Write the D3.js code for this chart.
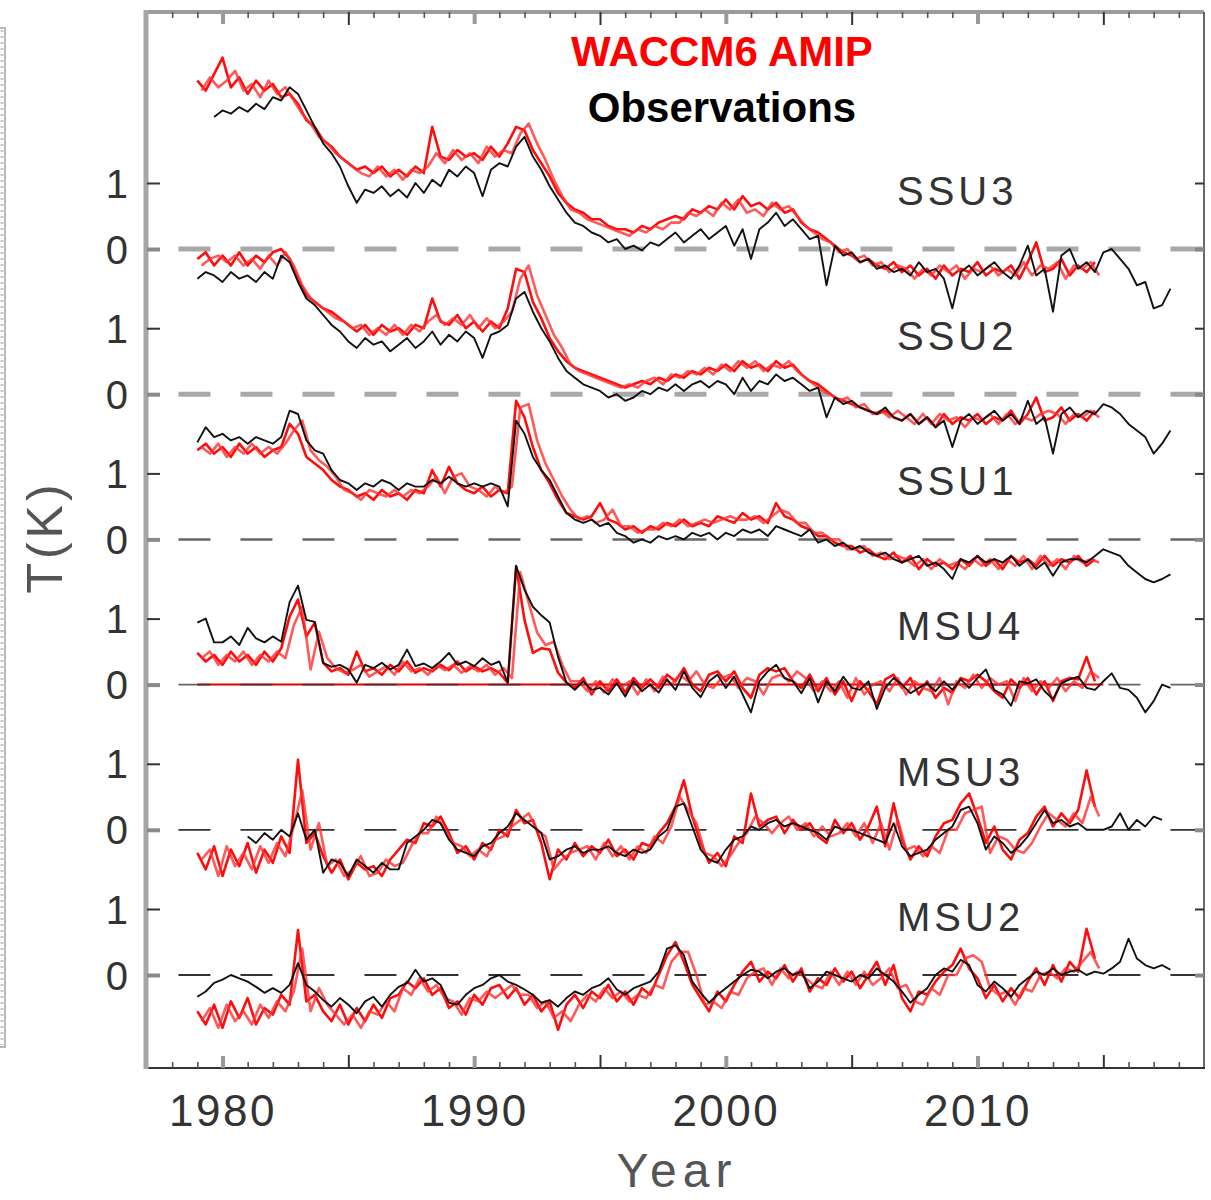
<!DOCTYPE html>
<html><head><meta charset="utf-8">
<script src="https://cdn.jsdelivr.net/npm/d3@7"></script>
<style>html,body{margin:0;padding:0;background:#fff}</style>
</head><body><svg id="c" width="1211" height="1200"></svg>
<script>
// ---------------- DATA ----------------
// Values in K (anomaly), sampled every 1/3 year; member B sampled half a step later
const START_YEAR = 1979;
const STEP = 1 / 3;
const MEMBER_B_START = 1979 + 1 / 6;
const YEAR_TICK_LABELS = [1980, 1990, 2000, 2010];
const PANELS = ["SSU3", "SSU2", "SSU1", "MSU4", "MSU3", "MSU2"];
const PANEL_OFFSETS = [11, 8.8, 6.6, 4.4, 2.2, 0];
const LEVEL_LABELS = ["0", "1"];
const TITLE_MODEL = "WACCM6 AMIP";
const TITLE_OBS = "Observations";

const OBS_SSU3 = [null,null,2.00, 2.10,2.05,2.15, 2.08,2.20,2.12, 2.30,2.25,2.45, 2.35,2.10,1.85, 1.60,1.45,1.25, 0.95,0.70,0.90, 0.85,0.95,0.80, 0.90,0.78,1.00, 0.85,1.05,0.95, 1.20,1.10,1.25, 1.15,0.80,1.20, 1.30,1.25,1.55, 1.70,1.40,1.20, 0.95,0.75,0.55, 0.40,0.35,0.25, 0.20,0.10,0.15, 0.00,0.05,-0.02, 0.10,0.05,0.15, 0.25,0.10,0.20, 0.30,0.15,0.25, 0.35,0.05,0.30, -0.15,0.30,0.40, 0.55,0.35,0.45, 0.30,0.15,0.20, -0.55,0.05,-0.10, -0.05,-0.20,-0.15, -0.30,-0.25,-0.35, -0.30,-0.40,-0.20, -0.35,-0.30,-0.45, -0.90,-0.35,-0.25, -0.40,-0.30,-0.20, -0.35,-0.45,-0.25, 0.05,-0.40,-0.30, -0.95,-0.10,0.00, -0.30,-0.20,-0.35, -0.05,0.00,-0.15, -0.30,-0.55,-0.50, -0.90,-0.85,-0.60];
const WACCM_SSU3_A = [2.55,2.40,2.65, 2.90,2.45,2.60, 2.35,2.55,2.40, 2.50,2.30,2.35, 2.20,1.95,1.85, 1.65,1.55,1.40, 1.30,1.20,1.25, 1.15,1.25,1.10, 1.20,1.10,1.25, 1.15,1.85,1.40, 1.35,1.50,1.40, 1.45,1.35,1.55, 1.40,1.60,1.85, 1.80,1.50,1.30, 1.10,0.85,0.70, 0.60,0.55,0.45, 0.45,0.35,0.30, 0.30,0.25,0.35, 0.30,0.40,0.45, 0.50,0.45,0.60, 0.55,0.65,0.60, 0.75,0.60,0.80, 0.65,0.70,0.60, 0.70,0.55,0.60, 0.40,0.30,0.25, 0.15,0.05,-0.05, -0.10,-0.20,-0.15, -0.25,-0.30,-0.20, -0.35,-0.25,-0.40, -0.30,-0.45,-0.25, -0.40,-0.30,-0.35, -0.20,-0.40,-0.30, -0.35,-0.25,-0.45, -0.20,0.10,-0.35, -0.30,-0.15,-0.40, -0.25,-0.35,-0.20];
const WACCM_SSU3_B = [2.40,2.60,2.45, 2.55,2.70,2.40, 2.50,2.30,2.55, 2.35,2.45,2.25, 2.05,1.90,1.70, 1.60,1.45,1.35, 1.25,1.15,1.10, 1.25,1.10,1.20, 1.05,1.20,1.15, 1.25,1.45,1.30, 1.50,1.35,1.45, 1.30,1.55,1.40, 1.50,1.45,1.75, 1.90,1.60,1.35, 1.05,0.80,0.60, 0.55,0.45,0.40, 0.35,0.30,0.25, 0.20,0.30,0.25, 0.35,0.30,0.40, 0.40,0.55,0.50, 0.60,0.50,0.70, 0.60,0.75,0.55, 0.60,0.50,0.70, 0.60,0.65,0.50, 0.35,0.25,0.15, 0.10,-0.05,0.00, -0.15,-0.10,-0.25, -0.20,-0.35,-0.25, -0.30,-0.45,-0.30, -0.40,-0.25,-0.35, -0.25,-0.45,-0.30, -0.35,-0.25,-0.40, -0.30,-0.40,-0.20, -0.40,-0.25,-0.30, -0.20,-0.45,-0.25, -0.30,-0.20,-0.40];

const OBS_SSU2 = [1.75,1.85,1.80, 1.70,1.85,1.75, 1.80,1.70,1.85, 1.75,2.10,2.00, 1.70,1.45,1.35, 1.20,1.05,0.95, 0.80,0.70,0.85, 0.75,0.80,0.65, 0.75,0.85,0.70, 0.80,0.95,0.75, 0.90,0.80,0.95, 0.85,0.55,0.90, 0.95,1.05,1.45, 1.55,1.25,1.00, 0.80,0.55,0.35, 0.25,0.15,0.10, 0.05,-0.05,0.00, -0.10,-0.05,0.05, 0.00,0.10,0.05, 0.15,0.05,0.15, 0.20,0.10,0.20, 0.15,0.00,0.25, 0.05,0.20,0.15, 0.30,0.20,0.25, 0.15,0.05,0.10, -0.35,-0.05,-0.15, -0.10,-0.20,-0.25, -0.30,-0.20,-0.35, -0.40,-0.30,-0.45, -0.35,-0.50,-0.40, -0.80,-0.40,-0.30, -0.45,-0.35,-0.25, -0.40,-0.30,-0.45, -0.10,-0.45,-0.35, -0.90,-0.30,-0.20, -0.35,-0.25,-0.30, -0.15,-0.20,-0.30, -0.45,-0.55,-0.65, -0.90,-0.75,-0.55];
const WACCM_SSU2_A = [2.05,2.15,1.95, 2.10,1.95,2.15, 1.95,2.10,2.00, 2.15,2.20,2.05, 1.75,1.50,1.40, 1.30,1.25,1.15, 1.05,0.95,1.05, 0.90,1.05,0.95, 1.00,0.90,1.05, 1.00,1.45,1.10, 1.05,1.20,1.00, 1.10,0.95,1.10, 1.00,1.30,1.90, 1.85,1.40,1.15, 0.85,0.65,0.50, 0.40,0.35,0.30, 0.25,0.20,0.15, 0.10,0.15,0.20, 0.15,0.25,0.20, 0.30,0.25,0.35, 0.30,0.40,0.35, 0.45,0.35,0.50, 0.40,0.45,0.35, 0.50,0.40,0.45, 0.30,0.20,0.15, 0.05,-0.05,-0.10, -0.15,-0.20,-0.25, -0.30,-0.25,-0.35, -0.40,-0.30,-0.45, -0.35,-0.50,-0.30, -0.45,-0.35,-0.40, -0.30,-0.45,-0.35, -0.40,-0.25,-0.45, -0.30,-0.05,-0.40, -0.35,-0.20,-0.40, -0.30,-0.40,-0.25];
const WACCM_SSU2_B = [1.95,2.05,2.10, 2.00,2.10,1.95, 2.05,1.90,2.10, 1.95,2.15,1.95, 1.65,1.45,1.35, 1.25,1.15,1.10, 1.00,1.05,0.90, 1.00,0.90,1.05, 0.90,1.05,0.95, 1.10,1.20,1.05, 1.15,1.05,1.20, 1.00,1.15,1.00, 1.10,1.25,1.75, 1.95,1.50,1.20, 0.90,0.70,0.45, 0.35,0.30,0.25, 0.20,0.15,0.10, 0.15,0.10,0.20, 0.25,0.15,0.30, 0.25,0.35,0.30, 0.40,0.30,0.45, 0.35,0.50,0.40, 0.50,0.35,0.45, 0.40,0.50,0.35, 0.25,0.15,0.05, 0.00,-0.10,-0.05, -0.20,-0.15,-0.30, -0.25,-0.35,-0.25, -0.35,-0.45,-0.30, -0.45,-0.30,-0.40, -0.35,-0.50,-0.35, -0.40,-0.30,-0.45, -0.30,-0.45,-0.35, -0.40,-0.30,-0.25, -0.30,-0.45,-0.30, -0.35,-0.25,-0.35];

const OBS_SSU1 = [1.47,1.70,1.55, 1.60,1.50,1.55, 1.45,1.55,1.50, 1.45,1.55,1.95, 1.90,1.50,1.35, 1.30,1.05,0.90, 0.85,0.75,0.85, 0.80,0.90,0.85, 0.75,0.85,0.80, 0.80,0.90,0.85, 0.95,0.85,0.80, 0.85,0.80,0.85, 0.80,0.50,1.80, 1.60,1.25,1.05, 0.90,0.65,0.40, 0.30,0.25,0.30, 0.20,0.25,0.10, 0.05,-0.05,0.00, -0.05,0.05,0.00, 0.05,0.00,0.10, 0.05,0.10,0.00, 0.10,0.05,0.15, 0.10,0.15,0.05, 0.20,0.15,0.10, 0.05,0.15,-0.05, 0.00,-0.10,-0.05, -0.15,-0.10,-0.20, -0.25,-0.20,-0.30, -0.35,-0.30,-0.25, -0.40,-0.35,-0.45, -0.60,-0.30,-0.35, -0.25,-0.35,-0.30, -0.35,-0.25,-0.40, -0.30,-0.45,-0.35, -0.55,-0.35,-0.30, -0.30,-0.35,-0.25, -0.15,-0.20,-0.25, -0.40,-0.50,-0.60, -0.65,-0.60,-0.53];
const WACCM_SSU1_A = [1.35,1.45,1.30, 1.40,1.25,1.45, 1.30,1.40,1.25, 1.35,1.40,1.75, 1.60,1.25,1.15, 1.05,0.90,0.80, 0.75,0.65,0.70, 0.60,0.75,0.65, 0.70,0.60,0.75, 0.70,1.05,0.80, 1.10,0.85,0.75, 0.70,0.80,0.65, 0.75,0.70,2.10, 1.85,1.40,1.05, 0.85,0.60,0.40, 0.35,0.30,0.35, 0.55,0.30,0.25, 0.15,0.20,0.10, 0.20,0.15,0.25, 0.20,0.30,0.20, 0.25,0.20,0.35, 0.30,0.25,0.40, 0.30,0.35,0.25, 0.55,0.35,0.30, 0.20,0.15,0.05, 0.05,-0.05,-0.10, -0.10,-0.20,-0.15, -0.25,-0.30,-0.20, -0.35,-0.25,-0.45, -0.30,-0.40,-0.35, -0.45,-0.30,-0.40, -0.25,-0.40,-0.30, -0.45,-0.25,-0.35, -0.30,-0.40,-0.25, -0.40,-0.30,-0.35, -0.25,-0.40,-0.30];
const WACCM_SSU1_B = [1.40,1.30,1.45, 1.25,1.40,1.30, 1.45,1.30,1.40, 1.30,1.45,1.65, 1.80,1.35,1.20, 1.10,0.95,0.75, 0.70,0.60,0.75, 0.70,0.65,0.75, 0.65,0.75,0.70, 0.80,0.95,0.70, 0.95,1.00,0.80, 0.75,0.65,0.80, 0.70,0.80,2.00, 2.05,1.50,1.15, 0.90,0.65,0.45, 0.30,0.35,0.25, 0.30,0.45,0.20, 0.20,0.10,0.15, 0.15,0.25,0.20, 0.30,0.20,0.25, 0.30,0.25,0.30, 0.35,0.30,0.30, 0.35,0.25,0.35, 0.45,0.40,0.25, 0.25,0.10,0.10, 0.00,0.00,-0.15, -0.15,-0.10,-0.25, -0.20,-0.30,-0.25, -0.30,-0.40,-0.30, -0.45,-0.30,-0.40, -0.35,-0.45,-0.30, -0.40,-0.30,-0.45, -0.30,-0.40,-0.25, -0.45,-0.25,-0.40, -0.30,-0.45,-0.25, -0.35,-0.30,-0.35];

const OBS_MSU4 = [0.94,1.00,0.64, 0.64,0.73,0.60, 0.86,0.70,0.64, 0.73,0.65,1.25, 1.50,0.98,0.95, 0.33,0.27,0.30, 0.23,0.03,0.30, 0.25,0.33,0.23, 0.30,0.53,0.28, 0.32,0.25,0.35, 0.48,0.30,0.35, 0.28,0.40,0.30, 0.35,0.03,1.80, 1.44,1.18,1.05, 0.94,0.42,0.03, -0.08,0.05,-0.08, -0.05,-0.15,0.02, -0.18,0.05,-0.10, 0.00,-0.12,0.08, -0.08,0.20,-0.05, -0.19,0.05,0.15, -0.05,0.12,-0.15, -0.42,0.05,0.20, 0.30,0.10,0.05, -0.13,0.10,-0.27, 0.05,-0.10,0.12, -0.05,-0.08,0.05, -0.37,-0.05,0.10, 0.00,-0.13,-0.05, 0.02,-0.10,0.05, -0.08,0.08,-0.05, 0.10,0.23,-0.08, -0.15,-0.32,0.05, 0.02,0.08,-0.10, -0.22,0.02,0.08, 0.12,-0.05,-0.08, 0.05,0.17,-0.05, -0.08,-0.20,-0.42, -0.25,0.00,-0.05];
const WACCM_MSU4_A = [0.48,0.35,0.45, 0.30,0.50,0.35, 0.45,0.30,0.50, 0.35,0.55,1.03, 1.29,0.73,0.94, 0.33,0.20,0.25, 0.15,0.50,0.20, 0.25,0.15,0.30, 0.20,0.35,0.18, 0.25,0.20,0.30, 0.22,0.35,0.20, 0.28,0.20,0.25, 0.18,0.03,1.79, 0.98,0.48,0.55, 0.53,0.18,0.03, -0.05,0.10,-0.15, 0.05,-0.10,0.08, -0.12,0.10,-0.05, 0.08,-0.05,0.15, 0.05,0.25,0.00, -0.10,0.15,0.20, 0.05,0.20,-0.05, -0.20,0.15,0.25, 0.20,0.25,0.05, -0.05,0.15,-0.10, 0.10,-0.15,0.05, -0.25,0.05,-0.10, -0.30,0.08,0.15, -0.05,0.10,-0.15, 0.05,-0.20,-0.05, -0.12,0.10,0.05, 0.15,0.05,-0.10, -0.20,0.08,-0.05, 0.10,-0.15,0.05, -0.25,0.05,0.10, 0.08,0.42,0.05];
const WACCM_MSU4_B = [0.40,0.50,0.30, 0.45,0.35,0.50, 0.30,0.45,0.35, 0.50,0.40,0.90, 1.18,0.23,0.80, 0.40,0.25,0.18, 0.22,0.30,0.12, 0.20,0.28,0.15, 0.35,0.20,0.25, 0.15,0.30,0.22, 0.30,0.18,0.28, 0.20,0.30,0.15, 0.25,0.10,1.70, 1.24,0.79,0.60, 0.65,0.30,0.05, 0.05,-0.10,0.05, -0.12,0.08,-0.05, 0.05,-0.15,0.08, -0.10,0.12,0.00, 0.15,0.05,0.20, 0.00,-0.05,0.10, 0.15,-0.05,0.10, 0.05,-0.15,0.10, 0.15,0.05,0.20, 0.10,-0.10,0.05, -0.10,0.05,-0.20, 0.10,-0.15,0.00, 0.05,-0.10,0.10, -0.15,0.05,-0.05, -0.10,0.10,-0.30, 0.05,-0.05,0.15, -0.05,0.10,0.00, 0.05,-0.25,0.10, -0.10,0.05,-0.05, 0.10,-0.10,0.05, -0.05,0.20,0.10];

const OBS_MSU3 = [null,null,null, null,null,null, -0.10,-0.20,-0.05, -0.15,0.00,-0.10, 0.25,-0.15,0.00, -0.65,-0.45,-0.50, -0.70,-0.45,-0.55, -0.65,-0.50,-0.60, -0.60,-0.20,-0.10, 0.00,0.15,0.10, -0.15,-0.30,-0.35, -0.40,-0.25,-0.20, -0.05,0.05,0.25, 0.15,0.05,-0.05, -0.45,-0.40,-0.30, -0.25,-0.35,-0.30, -0.30,-0.25,-0.35, -0.40,-0.30,-0.35, -0.30,-0.10,0.00, 0.35,0.40,0.05, -0.30,-0.45,-0.50, -0.30,-0.15,-0.10, 0.05,0.00,0.10, 0.15,0.05,0.10, 0.05,0.00,-0.05, -0.15,0.05,0.00, 0.00,-0.05,-0.10, -0.15,-0.20,0.10, -0.25,-0.40,-0.35, -0.30,-0.15,-0.05, 0.05,0.30,0.35, 0.10,-0.30,-0.10, -0.20,-0.35,-0.25, -0.10,0.10,0.30, 0.10,0.15,0.05, 0.10,0.00,0.00, 0.00,0.05,0.25, 0.00,0.15,0.05, 0.20,0.15,null];
const WACCM_MSU3_A = [-0.35,-0.60,-0.25, -0.70,-0.30,-0.55, -0.20,-0.65,-0.30, -0.50,-0.10,-0.35, 1.06,-0.20,-0.05, -0.40,-0.65,-0.45, -0.75,-0.50,-0.60, -0.55,-0.70,-0.45, -0.30,-0.15,-0.20, 0.10,0.05,0.20, -0.05,-0.35,-0.25, -0.45,-0.20,-0.30, 0.00,-0.10,0.30, 0.10,0.15,-0.20, -0.75,-0.30,-0.45, -0.20,-0.40,-0.25, -0.35,-0.15,-0.40, -0.30,-0.45,-0.20, -0.25,-0.05,0.10, 0.35,0.75,0.20, -0.20,-0.50,-0.35, -0.55,-0.10,-0.20, 0.55,0.05,0.15, 0.20,-0.05,0.15, 0.00,0.10,-0.10, -0.20,0.15,-0.05, 0.10,-0.15,0.05, 0.35,-0.25,0.40, -0.15,-0.45,-0.25, -0.40,-0.10,0.10, 0.15,0.40,0.55, 0.20,-0.20,0.05, -0.30,-0.45,-0.15, -0.05,0.20,0.35, 0.05,0.25,0.10, 0.30,0.90,0.35];
const WACCM_MSU3_B = [-0.45,-0.30,-0.70, -0.25,-0.55,-0.35, -0.60,-0.25,-0.50, -0.20,-0.40,0.05, 0.60,-0.30,0.10, -0.55,-0.45,-0.70, -0.60,-0.40,-0.70, -0.65,-0.45,-0.55, -0.50,-0.25,-0.05, -0.05,0.20,0.00, -0.20,-0.25,-0.40, -0.30,-0.40,-0.15, -0.10,0.05,0.15, 0.25,0.00,-0.10, -0.60,-0.45,-0.35, -0.30,-0.25,-0.45, -0.20,-0.40,-0.25, -0.45,-0.25,-0.35, -0.10,-0.20,0.05, 0.50,0.30,0.10, -0.35,-0.40,-0.55, -0.40,-0.20,-0.05, 0.20,0.10,-0.05, 0.10,0.20,0.00, 0.10,-0.10,0.05, -0.10,-0.05,0.10, -0.10,0.10,-0.20, 0.10,-0.30,0.15, -0.30,-0.25,-0.40, -0.25,-0.35,0.00, 0.00,0.25,0.30, 0.35,-0.35,-0.10, -0.15,-0.30,-0.35, -0.20,0.05,0.25, 0.15,0.05,0.25, 0.10,0.50,0.20];

const OBS_MSU2 = [-0.33,-0.25,-0.12, -0.07,0.00,-0.05, -0.10,-0.18,-0.27, -0.20,-0.27,-0.15, 0.18,-0.15,-0.25, -0.38,-0.48,-0.35, -0.45,-0.58,-0.40, -0.33,-0.48,-0.30, -0.18,-0.12,0.08, -0.10,-0.05,-0.15, -0.42,-0.45,-0.30, -0.20,-0.15,-0.05, 0.00,-0.10,-0.15, -0.22,-0.30,-0.42, -0.38,-0.48,-0.35, -0.25,-0.30,-0.20, -0.15,-0.05,-0.22, -0.30,-0.20,-0.15, -0.10,0.05,0.40, 0.45,0.30,-0.10, -0.27,-0.42,-0.30, -0.20,-0.10,0.00, 0.08,0.05,-0.05, 0.05,0.10,0.00, 0.05,-0.20,-0.10, 0.05,0.00,-0.05, -0.10,0.00,-0.05, 0.10,0.00,-0.10, -0.25,-0.42,-0.30, -0.20,0.00,0.10, 0.05,0.23,0.15, -0.15,-0.25,-0.10, -0.20,-0.33,-0.15, -0.05,0.05,0.00, 0.10,0.00,0.05, 0.08,0.00,0.05, 0.02,0.10,0.20, 0.55,0.25,0.15, 0.10,0.15,0.08];
const WACCM_MSU2_A = [-0.55,-0.75,-0.45, -0.80,-0.40,-0.65, -0.35,-0.75,-0.50, -0.60,-0.30,-0.45, 0.68,-0.40,-0.30, -0.55,-0.70,-0.45, -0.75,-0.50,-0.70, -0.45,-0.65,-0.35, -0.30,-0.10,-0.20, -0.05,-0.30,-0.20, -0.50,-0.40,-0.60, -0.30,-0.45,-0.20, -0.15,-0.35,-0.20, -0.45,-0.30,-0.55, -0.40,-0.83,-0.45, -0.30,-0.50,-0.25, -0.35,-0.15,-0.40, -0.25,-0.45,-0.20, -0.30,0.00,0.30, 0.50,0.20,-0.15, -0.35,-0.55,-0.25, -0.40,-0.15,0.05, 0.20,-0.10,0.05, -0.05,0.15,-0.10, 0.10,-0.25,-0.05, -0.15,0.10,-0.10, 0.05,-0.20,0.00, 0.20,-0.15,0.15, -0.35,-0.55,-0.25, -0.30,-0.10,0.05, 0.15,0.40,0.10, -0.05,-0.35,-0.15, -0.40,-0.20,-0.35, -0.10,0.10,-0.15, 0.15,-0.10,0.20, 0.05,0.70,0.25];
const WACCM_MSU2_B = [-0.70,-0.50,-0.80, -0.45,-0.70,-0.55, -0.75,-0.45,-0.65, -0.40,-0.55,-0.25, 0.40,-0.55,-0.20, -0.45,-0.60,-0.75, -0.60,-0.80,-0.55, -0.60,-0.40,-0.55, -0.20,-0.30,-0.05, -0.25,-0.15,-0.35, -0.40,-0.60,-0.35, -0.40,-0.25,-0.35, -0.25,-0.15,-0.30, -0.30,-0.50,-0.40, -0.65,-0.55,-0.70, -0.45,-0.30,-0.40, -0.20,-0.35,-0.25, -0.40,-0.30,-0.35, -0.15,-0.20,0.20, 0.35,0.35,0.00, -0.45,-0.40,-0.50, -0.25,-0.30,-0.05, 0.05,0.10,-0.15, 0.10,-0.05,0.05, -0.05,-0.15,-0.20, 0.05,-0.15,0.05, -0.15,0.05,-0.15, -0.05,0.10,-0.20, -0.15,-0.40,-0.45, -0.20,-0.30,0.00, 0.00,0.25,0.30, 0.20,-0.20,-0.30, -0.25,-0.45,-0.20, -0.25,0.00,0.05, -0.05,0.10,0.05, 0.20,0.35,0.10];

const OBS_SERIES = [OBS_SSU3, OBS_SSU2, OBS_SSU1, OBS_MSU4, OBS_MSU3, OBS_MSU2];
const MODEL_SERIES = [
  [WACCM_SSU3_A, WACCM_SSU3_B], [WACCM_SSU2_A, WACCM_SSU2_B], [WACCM_SSU1_A, WACCM_SSU1_B],
  [WACCM_MSU4_A, WACCM_MSU4_B], [WACCM_MSU3_A, WACCM_MSU3_B], [WACCM_MSU2_A, WACCM_MSU2_B]
];
const MEMBER_STARTS = [START_YEAR, MEMBER_B_START];

// ---------------- DRAW ----------------
const W = 1211, H = 1200;
const svg = d3.select("#c");
svg.append("rect").attr("width", W).attr("height", H).attr("fill", "#fff");
const FONT = "'Liberation Sans', Arial, Helvetica, sans-serif";

const x = d3.scaleLinear().domain([1977, 2019]).range([147, 1204]);
const y = d3.scaleLinear().domain([0, 11]).range([975, 249]);
const TOP = 12, BOTTOM = 1068, LEFT = 147, RIGHT = 1204;

// partial neighbour panel at far left
svg.append("path").attr("d", `M0,28 H5 V1047 H0`).attr("fill", "none")
  .attr("stroke", "#b8b8b8").attr("stroke-width", 2);
svg.append("line").attr("x1", 2).attr("x2", 2).attr("y1", 30).attr("y2", 1045)
  .attr("stroke", "#c8c8c8").attr("stroke-width", 3).attr("stroke-dasharray", "2,4");

const toPoints = (arr, start) => arr.map((v, i) => ({ t: start + i * STEP, v }));

// zero lines
PANELS.forEach((p, k) => {
  const off = PANEL_OFFSETS[k];
  const zy = y(off);
  if (k === 3) {
    svg.append("line").attr("x1", x(START_YEAR)).attr("x2", x(START_YEAR + MODEL_SERIES[k][0].length * STEP))
      .attr("y1", zy).attr("y2", zy).attr("stroke", "#e00000").attr("stroke-width", 2);
  }
  let stroke = "#333", sw = 1.8;
  if (k <= 1) { stroke = "#a9a9a9"; sw = 5; }
  else if (k === 2) { stroke = "#666"; sw = 2.5; }
  svg.append("line").attr("x1", x(1978.25)).attr("x2", RIGHT).attr("y1", zy).attr("y2", zy)
    .attr("stroke", stroke).attr("stroke-width", sw).attr("stroke-dasharray", "32,30")
    .attr("opacity", k === 3 ? 0.75 : 1);
});

const line = d3.line().defined(d => d.v != null).x(d => x(d.t));

// data lines
PANELS.forEach((p, k) => {
  const off = PANEL_OFFSETS[k];
  const ln = line.y(d => y(off + d.v));
  MODEL_SERIES[k].forEach((m, j) => {
    svg.append("path").datum(toPoints(m, MEMBER_STARTS[j])).attr("d", ln).attr("fill", "none")
      .attr("stroke", j === 0 ? "#ff0000" : "#ff3030").attr("stroke-width", 2.6)
      .attr("stroke-linejoin", "round").attr("opacity", j === 0 ? 0.95 : 0.8);
  });
  svg.append("path").datum(toPoints(OBS_SERIES[k], START_YEAR)).attr("d", ln).attr("fill", "none")
    .attr("stroke", "#111").attr("stroke-width", 1.9).attr("stroke-linejoin", "round");

  svg.append("text").attr("x", 897).attr("y", y(off + 0.67)).text(p)
    .attr("font-family", FONT).attr("font-size", 40).attr("letter-spacing", 4).attr("fill", "#333");
});

// frame
svg.append("line").attr("x1", LEFT).attr("x2", RIGHT).attr("y1", TOP).attr("y2", TOP)
  .attr("stroke", "#9c9c9c").attr("stroke-width", 4);
svg.append("line").attr("x1", RIGHT).attr("x2", RIGHT).attr("y1", TOP).attr("y2", BOTTOM)
  .attr("stroke", "#444").attr("stroke-width", 1.6);
svg.append("line").attr("x1", LEFT).attr("x2", RIGHT + 1).attr("y1", BOTTOM).attr("y2", BOTTOM)
  .attr("stroke", "#333").attr("stroke-width", 2);
svg.append("line").attr("x1", LEFT - 1).attr("x2", LEFT - 1).attr("y1", TOP - 2).attr("y2", BOTTOM + 1)
  .attr("stroke", "#a6a6a6").attr("stroke-width", 5);

// bottom / top axes
const yearTicks = d3.range(1978, 2019);
const styleYearTicks = g => {
  g.select(".domain").remove();
  g.selectAll(".tick line").each(function (d) {
    const s = d3.select(this);
    const sign = +s.attr("y2") < 0 ? -1 : 1;
    if (d % 10 === 0) s.attr("stroke", "#9a9a9a").attr("stroke-width", 4).attr("y2", sign * 12);
    else if (d % 5 === 0) s.attr("stroke", "#333").attr("stroke-width", 2).attr("y2", sign * 13);
    else s.attr("stroke", "#555").attr("stroke-width", 1.6).attr("y2", sign * 6);
  });
};
svg.append("g").attr("transform", `translate(0,${BOTTOM})`)
  .call(d3.axisBottom(x).tickValues(yearTicks).tickSize(-6).tickPadding(27)
    .tickFormat(d => YEAR_TICK_LABELS.includes(d) ? String(d) : ""))
  .call(styleYearTicks)
  .call(g => g.selectAll("text").attr("font-family", FONT).attr("font-size", 44)
    .attr("letter-spacing", 2.5).attr("fill", "#333"));

svg.append("g").attr("transform", `translate(0,${TOP})`)
  .call(d3.axisTop(x).tickValues(yearTicks).tickSize(-6).tickFormat(""))
  .call(styleYearTicks);

// left & right axes
const levelValues = PANEL_OFFSETS.flatMap(o => [o, o + 1]);
svg.append("g").attr("transform", `translate(${LEFT},0)`)
  .call(d3.axisLeft(y).tickValues(levelValues).tickSize(-13).tickPadding(19)
    .tickFormat((d, i) => LEVEL_LABELS[i % 2]))
  .call(g => g.select(".domain").remove())
  .call(g => g.selectAll(".tick line").each(function (d, i) {
    d3.select(this).attr("stroke", i % 2 ? "#333" : "#8a8a8a").attr("stroke-width", i % 2 ? 2 : 4);
  }))
  .call(g => g.selectAll("text").attr("font-family", FONT).attr("font-size", 40).attr("fill", "#333").attr("dy", "0.35em"));

svg.append("g").attr("transform", `translate(${RIGHT},0)`)
  .call(d3.axisRight(y).tickValues(levelValues).tickSize(-9).tickFormat(""))
  .call(g => g.select(".domain").remove())
  .call(g => g.selectAll(".tick line").each(function (d, i) {
    d3.select(this).attr("stroke", i % 2 ? "#333" : "#8a8a8a").attr("stroke-width", i % 2 ? 2 : 4);
  }));

// axis titles
svg.append("text").attr("transform", "translate(62,537) rotate(-90)").attr("text-anchor", "middle")
  .attr("font-family", FONT).attr("font-size", 50).attr("letter-spacing", 4).attr("fill", "#555").text("T(K)");
svg.append("text").attr("x", 677).attr("y", 1187).attr("text-anchor", "middle")
  .attr("font-family", FONT).attr("font-size", 48).attr("letter-spacing", 6).attr("fill", "#555").text("Year");

// legend titles
svg.append("text").attr("x", 722).attr("y", 66).attr("text-anchor", "middle")
  .attr("font-family", FONT).attr("font-weight", "bold").attr("font-size", 42)
  .attr("fill", "#ff0000").text(TITLE_MODEL);
svg.append("text").attr("x", 722).attr("y", 122).attr("text-anchor", "middle")
  .attr("font-family", FONT).attr("font-weight", "bold").attr("font-size", 42)
  .attr("fill", "#000").text(TITLE_OBS);
</script>
</body></html>
